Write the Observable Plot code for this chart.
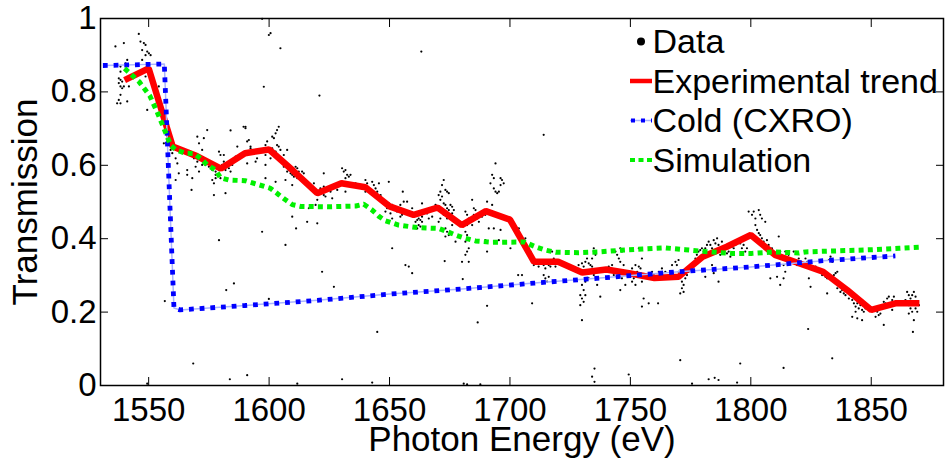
<!DOCTYPE html>
<html><head><meta charset="utf-8">
<script src="https://cdn.jsdelivr.net/npm/d3@7"></script>
<script src="https://cdn.jsdelivr.net/npm/@observablehq/plot@0.6"></script>
<style>
html,body{margin:0;padding:0;background:#fff;}
#chart svg{display:block;}
#chart g[aria-label="x-axis label"] text, #chart g[aria-label="y-axis label"] text{font-size:35px;}
</style></head><body><div id="chart"></div>
<script>
// Tick values
const xTicks = [1550, 1600, 1650, 1700, 1750, 1800, 1850];
const yTicks = [0, 0.2, 0.4, 0.6, 0.8, 1];

// Experimental trend
const trendEnergy = [1540,1550,1560,1570,1580,1590,1600,1610,1620,1630,1640,1650,1660,1670,1680,1690,1700,1710,1720,1730,1740,1750,1760,1770,1780,1790,1800,1810,1820,1830,1840,1850,1860,1870];
const trendValue  = [0.832,0.864,0.651,0.625,0.591,0.633,0.643,0.585,0.524,0.551,0.54,0.488,0.465,0.485,0.437,0.475,0.452,0.337,0.337,0.308,0.316,0.305,0.293,0.296,0.351,0.378,0.41,0.356,0.333,0.31,0.26,0.206,0.224,0.224];

// Cold (CXRO)
const coldEnergy = [1531,1540,1550,1556.5,1560.5,1563,1590,1620,1650,1680,1710,1740,1770,1800,1830,1860];
const coldValue  = [0.872,0.873,0.875,0.876,0.211,0.206,0.218,0.232,0.249,0.263,0.279,0.294,0.31,0.323,0.34,0.353];

// Simulation
const simEnergy = [1540,1546,1550.5,1553.6,1556.3,1559.1,1561.2,1565.3,1568.8,1571.5,1574.3,1577.8,1579.8,1583.3,1590,1595.7,1600.6,1604,1606.8,1609.6,1613,1625,1636,1639.3,1642.8,1645.6,1648.3,1653.8,1662,1670.4,1674,1677.4,1681.5,1685.7,1692.6,1706,1710.6,1714.7,1719,1728.5,1737,1745,1755,1764.5,1772.8,1781,1792,1800.5,1810,1820,1822.7,1836.5,1850.4,1861.5,1870.4];
const simValue  = [0.864,0.828,0.789,0.744,0.701,0.655,0.642,0.633,0.632,0.619,0.601,0.587,0.566,0.56,0.558,0.547,0.537,0.52,0.506,0.493,0.488,0.487,0.489,0.494,0.478,0.461,0.449,0.437,0.43,0.428,0.419,0.41,0.401,0.394,0.39,0.391,0.378,0.369,0.363,0.362,0.364,0.368,0.372,0.375,0.37,0.365,0.36,0.36,0.364,0.361,0.364,0.367,0.37,0.374,0.377];

// Measured data points [energy, transmission]
const dataPoints = [
[1545.9,0.958],[1539.7,0.933],[1536.2,0.924],[1546.6,0.937],[1548,0.933],[1548.7,0.928],[1547.3,0.914],[1549.4,0.91],[1550.1,0.905],[1550.8,0.9],[1548.7,0.9],[1547.3,0.887],[1541.1,0.887],[1540.4,0.878],[1538.3,0.869],[1538.3,0.855],
[1537.6,0.837],[1538.3,0.833],[1539,0.828],[1537.6,0.824],[1539.7,0.815],[1538.3,0.815],[1541.8,0.815],[1539,0.81],
[1538.3,0.792],[1537.6,0.778],[1536.9,0.769],[1538.3,0.769],[1541.1,0.774],
[1548.7,0.842],[1550.1,0.846],[1551.5,0.828],[1554.2,0.815],[1549.4,0.751],
[1557,0.692],[1557.7,0.665],[1556.3,0.66],[1558.4,0.655],[1559.1,0.642],[1559.8,0.633],[1561.2,0.619],
[1561.9,0.605],[1562.5,0.578],[1566,0.587],[1566,0.574],[1568.1,0.565],[1569.5,0.596],[1570.9,0.583],
[1574.3,0.696],[1570.2,0.678],[1572.9,0.674],[1570.9,0.66],
[1572.2,0.642],[1569.5,0.628],[1568.8,0.619],[1570.2,0.61],[1572.2,0.601],[1573.6,0.601],[1575,0.596],[1576.4,0.587],[1577.8,0.583],[1579.2,0.587],[1579.8,0.596],[1580.5,0.601],[1581.2,0.61],[1581.9,0.587],[1583.3,0.592],[1584,0.583],[1577.8,0.574],[1576.4,0.56],[1577.1,0.551],[1577.8,0.565],[1579.8,0.565],[1577.1,0.519],[1581.9,0.524],[1579.2,0.637],[1579.8,0.628],[1581.2,0.628],[1586.8,0.651],[1586.1,0.624],[1588.8,0.624],[1590.2,0.705],[1584.7,0.601],[1584,0.605],
[1561.2,0.56],[1567.8,0.533],[1584,0.695],[1589.4,0.705],
[1579.2,0.396],[1582.2,0.26],[1585.4,0.278],[1556.7,0.23],[1568.5,0.06],[1583.7,0.017],[1549.4,0.005],
[1597.1,0.999],[1600.6,0.96],[1599.9,0.955],[1604.7,0.919],[1597.8,0.814],[1620.9,0.79],[1590.2,0.701],
[1604,0.705],[1603.3,0.696],[1602.7,0.687],[1601.3,0.678],[1602,0.674],[1603.3,0.655],[1604,0.651],[1604.7,0.642],[1602.7,0.637],[1601.3,0.646],[1599.2,0.665],[1598.5,0.655],[1599.9,0.637],[1598.5,0.628],[1602,0.628],[1600.6,0.619],[1606.1,0.628],[1607.5,0.642],[1595.7,0.637],[1595,0.619],[1594.4,0.61],[1592.3,0.646],[1591.6,0.637],[1590.9,0.665],[1591.6,0.669],[1592.3,0.651],[1593.7,0.633],[1590.9,0.605],[1598.5,0.601],[1598.5,0.565],
[1606.1,0.596],[1608.2,0.587],[1607.5,0.583],[1608.9,0.578],[1609.6,0.574],[1611,0.596],[1611.7,0.592],[1612.3,0.583],[1610.3,0.569],[1611.7,0.565],[1613.7,0.583],[1614.4,0.578],[1609.6,0.546],[1606.8,0.56],[1602.7,0.555],[1615.8,0.551],[1618.6,0.551],[1619.3,0.533],[1620.6,0.528],[1620,0.519],[1621.3,0.537],[1622.7,0.542],[1624.1,0.533],[1622.7,0.519],[1620,0.506],[1619.3,0.492],[1623.4,0.515],[1625.5,0.528],[1626.2,0.51],[1622.7,0.578],
[1630.3,0.592],[1631.7,0.587],[1631,0.583],[1632.4,0.574],[1633.1,0.569],[1633.8,0.574],[1631.7,0.565],[1630.3,0.555],[1629.6,0.546],[1632.4,0.546],[1633.8,0.546],[1635.9,0.551],[1637.3,0.542],[1638.6,0.537],[1640,0.56],[1640.7,0.551],[1641.4,0.537],[1642.1,0.528],[1642.8,0.555],[1643.5,0.546],[1644.2,0.537],[1644.9,0.528],[1645.6,0.551],[1646.3,0.519],[1640,0.528],[1631.7,0.528],[1628.3,0.533],
[1616.5,0.483],[1609.6,0.46],[1611.2,0.428],[1615.8,0.446],[1620,0.442],[1597.1,0.419],[1606.8,0.383],[1622,0.31],[1626.9,0.269],[1599.9,0.236],[1644.9,0.146],[1590.9,0.028],[1611.7,0.005],[1630.3,0.017],[1642.8,0.008],
[1663.2,0.91],[1649.7,0.555],[1655.5,0.528],
[1648.3,0.501],[1649.7,0.496],[1651.1,0.492],[1651.8,0.483],[1652.5,0.478],[1653.8,0.483],[1654.5,0.492],[1655.2,0.478],[1653.1,0.474],[1655.9,0.501],[1657.3,0.501],[1655.2,0.465],[1654.5,0.46],[1651.1,0.455],[1650.4,0.469],[1648.3,0.474],[1649,0.483],
[1659.4,0.483],[1662.1,0.455],[1662.8,0.451],[1663.5,0.446],[1661.5,0.451],[1660.8,0.446],[1662.1,0.437],[1662.8,0.433],[1661.5,0.428],[1663.5,0.46],[1664.2,0.478],[1663.5,0.496],[1664.9,0.474],[1665.6,0.469],[1666.3,0.455],[1667.7,0.46],[1669.1,0.492],[1670.4,0.519],[1671.1,0.528],[1672.5,0.56],[1671.8,0.546],[1673.2,0.533],[1673.9,0.528],[1674.6,0.524],[1671.8,0.515],[1671.1,0.506],[1672.5,0.496],[1673.2,0.492],[1673.9,0.483],[1674.6,0.478],[1675.3,0.492],[1676,0.487],[1676.7,0.478],[1672.5,0.465],[1673.9,0.455],[1674.6,0.46],[1675.3,0.465],[1676,0.469],[1671.1,0.455],[1670.4,0.446],[1673.2,0.428],[1673.9,0.419],[1674.6,0.41],[1673.2,0.406],[1676,0.437],[1677.4,0.392],
[1681.5,0.474],[1682.2,0.465],[1682.9,0.455],[1683.6,0.446],[1684.3,0.437],[1683.6,0.455],[1685,0.465],[1685.7,0.478],[1685,0.483],[1684.3,0.506],[1682.2,0.437],[1681.5,0.419],[1682.2,0.41],[1682.9,0.401],[1681.5,0.392],[1682.9,0.374],[1682.2,0.365],[1681.5,0.356],[1680.1,0.337],[1682.9,0.337],[1680.4,0.29],
[1686.4,0.455],[1687.1,0.446],[1688.4,0.46],[1689.8,0.465],[1691.2,0.474],[1690.5,0.501],[1692.6,0.492],[1693.3,0.537],[1692.6,0.574],[1693.3,0.565],[1694,0.605],[1691.9,0.551],[1694,0.528],[1694.7,0.524],[1696.1,0.546],[1696.7,0.56],[1697.4,0.551],[1696.1,0.565],[1695.4,0.528],[1691.2,0.428],[1693.3,0.428],[1696.1,0.424],[1690.5,0.365],[1695.4,0.396],[1689.8,0.396],[1700.2,0.374],[1703.7,0.428],[1703.7,0.419],[1703.4,0.301],[1705,0.301],
[1672.9,0.339],[1656.6,0.328],[1658,0.324],[1659.4,0.306],[1651.1,0.374],[1690.5,0.217],[1686.6,0.172],[1680.8,0.005],[1682.2,0.003],[1687.7,0.003],
[1714,0.683],
[1706.4,0.401],[1707.8,0.374],[1708.5,0.365],[1709.2,0.346],[1709.9,0.328],[1710.6,0.337],[1711.2,0.333],[1711.9,0.324],[1712.6,0.333],[1714,0.328],[1714.7,0.337],[1715.4,0.342],[1716.1,0.328],[1716.8,0.324],[1717.5,0.337],[1718.2,0.346],[1718.9,0.324],[1717.5,0.365],[1714.7,0.319],[1714,0.301],[1716.1,0.296],[1714.7,0.292],[1715.4,0.283],[1709.2,0.224],
[1728.5,0.328],[1729.9,0.333],[1730.6,0.324],[1731.3,0.337],[1732,0.346],[1732.7,0.333],[1733.4,0.328],[1734.1,0.324],[1734.8,0.365],[1734.8,0.374],[1735.5,0.356],[1734.1,0.346],[1736.2,0.31],[1734.8,0.301],[1732.7,0.292],[1731.3,0.283],[1729.9,0.274],[1730.6,0.26],[1729.2,0.246],[1729.9,0.237],[1730.6,0.228],[1729.2,0.219],[1731.3,0.246],[1737.5,0.242],[1736.2,0.274],[1729.9,0.178],
[1738.2,0.31],[1739.6,0.319],[1741,0.324],[1742.4,0.328],[1741.7,0.31],[1743.1,0.301],[1743.8,0.365],[1744.5,0.356],[1745.2,0.346],[1745.8,0.374],[1746.5,0.365],[1745.8,0.337],[1747.2,0.328],[1747.9,0.31],[1746.5,0.292],[1745.8,0.26],[1747.9,0.274],[1749.3,0.31],[1750.7,0.319],[1752.1,0.328],[1752.8,0.31],[1753.5,0.324],[1754.2,0.319],[1754.8,0.346],[1753.5,0.374],[1754.2,0.301],[1754.8,0.283],[1752.1,0.274],[1751.4,0.292],[1750.7,0.283],[1755.5,0.237],[1754.8,0.215],[1757.6,0.224],[1759,0.31],[1759.7,0.301],[1761.1,0.292],[1761.8,0.31],[1761.5,0.224],[1763.1,0.319],
[1735.1,0.046],[1734.1,0.024],[1735.1,0.01],[1749.3,0.03],
[1764.5,0.31],[1765.9,0.301],[1767.3,0.328],[1768.7,0.337],[1770,0.342],[1769.3,0.328],[1770,0.31],[1770.7,0.296],[1771.4,0.283],[1772.1,0.274],[1772.8,0.292],[1773.5,0.301],[1774.2,0.31],[1774.9,0.319],[1772.1,0.255],[1770.7,0.251],[1771.4,0.265],
[1775.6,0.328],[1776.3,0.333],[1777,0.346],[1777.6,0.356],[1778.3,0.365],[1779,0.369],[1779.7,0.374],[1780.4,0.365],[1781.1,0.374],[1781.8,0.383],[1782.5,0.392],[1783.2,0.383],[1783.9,0.374],[1784.6,0.396],[1785.3,0.387],[1786,0.401],[1786.6,0.383],[1788,0.392],[1788.7,0.365],[1787.3,0.356],[1789.4,0.374],[1790.1,0.36],[1790.8,0.365],[1791.5,0.351],[1792.2,0.378],[1792.9,0.374],[1793.6,0.383],[1794.3,0.392],[1795,0.396],[1795.6,0.387],[1796.3,0.374],[1797,0.383],[1797.7,0.365],[1798.4,0.374],
[1799.1,0.474],[1800.5,0.465],[1801.2,0.474],[1801.9,0.455],[1803.3,0.478],[1803.9,0.465],[1804.6,0.455],[1801.9,0.437],[1802.6,0.424],[1803.3,0.415],[1803.9,0.41],[1804.6,0.401],[1805.3,0.392],[1806,0.446],[1806.7,0.396],[1807.4,0.383],[1808.1,0.365],[1808.8,0.374],[1810.2,0.356],[1811.6,0.406],[1812.2,0.365],[1812.9,0.346],[1813.6,0.328],[1814.3,0.365],[1815,0.346],[1815.7,0.356],[1816.4,0.333],[1817.1,0.342],[1817.8,0.365],[1818.5,0.337],[1819.2,0.328],[1819.9,0.346],
[1781.1,0.296],[1784.6,0.306],[1783.9,0.328],[1786.6,0.283],[1808.1,0.292],[1810.9,0.296],[1812.2,0.274],[1813.6,0.292],[1814.3,0.31],
[1770.7,0.069],[1775.6,0.005],[1782.5,0.017],[1785,0.021],[1786.6,0.015],[1794.3,0.008],[1795.6,0.06],[1813.6,0.048],
[1822.7,0.346],[1823.4,0.337],[1824.1,0.328],[1824.8,0.324],[1825.5,0.319],[1824.1,0.292],[1824.8,0.269],[1826.9,0.324],[1828.2,0.315],[1829.6,0.301],[1831,0.296],[1831.7,0.292],[1832.4,0.342],[1833.1,0.351],[1833.8,0.337],[1834.5,0.301],[1835.2,0.306],[1835.9,0.31],[1834.5,0.283],[1835.9,0.265],[1836.5,0.274],[1837.2,0.255],[1837.9,0.26],[1838.6,0.251],[1839.3,0.246],[1840,0.255],[1840.7,0.237],[1842.1,0.233],[1842.8,0.224],[1843.5,0.215],[1844.2,0.224],[1844.8,0.21],[1845.5,0.219],[1846.2,0.206],[1846.9,0.201],[1847.6,0.21],[1843.5,0.201],[1842.1,0.187],[1844.2,0.183],[1846.2,0.178],[1831.7,0.251],[1823.8,0.154],[1833.8,0.074],
[1851.8,0.21],[1852.5,0.201],[1853.1,0.192],[1853.8,0.196],[1854.5,0.219],[1855.2,0.228],[1855.9,0.224],[1856.6,0.237],[1857.3,0.242],[1858.7,0.233],[1858,0.219],[1859.4,0.242],[1851.8,0.187],[1855.2,0.165],[1858.7,0.206],
[1864.2,0.233],[1864.9,0.228],[1865.6,0.219],[1866.3,0.237],[1867,0.246],[1867.7,0.255],[1868.4,0.242],[1869.1,0.224],[1869.8,0.219],[1868.4,0.21],[1867,0.201],[1866.3,0.21],[1865.6,0.196],[1867.7,0.178],[1869.1,0.201],[1867.3,0.146],[1864.9,0.255],[1865.6,0.246]
];

const legendLabels = ["Data", "Experimental trend", "Cold (CXRO)", "Simulation"];

const zip = (xs, ys) => xs.map((x, i) => [x, ys[i]]);
const trendPts = zip(trendEnergy, trendValue);
const coldPts = zip(coldEnergy, coldValue);
const simPts = zip(simEnergy, simValue);

const FONT = "'Liberation Sans', Arial, Helvetica, sans-serif";

const plot = Plot.plot({
  width: 945,
  height: 460,
  marginLeft: 100,
  marginRight: 2,
  marginTop: 18,
  marginBottom: 75,
  style: {fontFamily: FONT, fontSize: "33px", background: "#fff", color: "#000", overflow: "visible"},
  x: {domain: [1530, 1880]},
  y: {domain: [0, 1]},
  marks: [
    Plot.dot(dataPoints, {r: 1.1, fill: "#000", stroke: null}),
    Plot.line(trendPts, {stroke: "#ff0000", strokeWidth: 6.5, strokeLinejoin: "miter", strokeLinecap: "butt"}),
    Plot.line(coldPts, {stroke: "#aab3ff", strokeWidth: 1.5, strokeLinecap: "butt"}),
    Plot.line(coldPts, {stroke: "#0000ff", strokeWidth: 4.8, strokeDasharray: "4.8,5.9", strokeLinecap: "butt", strokeLinejoin: "miter"}),
    Plot.line(simPts, {stroke: "#00f000", strokeWidth: 5, strokeDasharray: "5,4.2", strokeLinecap: "butt"}),
    Plot.frame({stroke: "#000", strokeWidth: 1.5}),
    Plot.axisX(xTicks, {anchor: "bottom", tickSize: 0, tickPadding: 12, tickFormat: d => String(d), label: "Photon Energy (eV)", labelArrow: false, labelAnchor: "center", labelOffset: 65}),
    Plot.axisX(xTicks, {anchor: "bottom", tickSize: -8, tickFormat: () => "", label: null}),
    Plot.axisX(xTicks, {anchor: "top", tickSize: -8, tickFormat: () => "", label: null}),
    Plot.axisY(yTicks, {anchor: "left", tickSize: 0, tickPadding: 4, tickFormat: d => String(d), label: "Transmission", labelArrow: false, labelAnchor: "center", labelOffset: 88}),
    Plot.axisY(yTicks, {anchor: "left", tickSize: -8, tickFormat: () => "", label: null}),
    Plot.axisY(yTicks, {anchor: "right", tickSize: -8, tickFormat: () => "", label: null})
  ]
});

document.getElementById("chart").appendChild(plot);

// Legend (inside the axes, top right)
const svg = d3.select(plot);
const lg = svg.append("g").attr("font-family", FONT).attr("font-size", 34).attr("fill", "#000").attr("text-anchor", "start");
const baseY = 53, stepY = 39.5, textX = 652.5, sw0 = 630, sw1 = 652;
legendLabels.forEach((lab, i) => {
  const by = baseY + i * stepY, cy = by - 11.5;
  if (i === 0) {
    lg.append("circle").attr("cx", 641).attr("cy", cy).attr("r", 4).attr("fill", "#000");
  } else if (i === 1) {
    lg.append("line").attr("x1", sw0).attr("x2", sw1).attr("y1", cy).attr("y2", cy).attr("stroke", "#ff0000").attr("stroke-width", 4.5);
  } else if (i === 2) {
    lg.append("line").attr("x1", sw0).attr("x2", sw1).attr("y1", cy).attr("y2", cy).attr("stroke", "#aab3ff").attr("stroke-width", 1.5);
    lg.append("line").attr("x1", sw0 + 1).attr("x2", sw1).attr("y1", cy).attr("y2", cy).attr("stroke", "#0000ff").attr("stroke-width", 4).attr("stroke-dasharray", "4,6");
  } else {
    lg.append("line").attr("x1", sw0).attr("x2", sw1).attr("y1", cy).attr("y2", cy).attr("stroke", "#00f000").attr("stroke-width", 4).attr("stroke-dasharray", "5,3.5");
  }
  lg.append("text").attr("x", textX).attr("y", by).attr("text-anchor", "start").text(lab);
});
</script>
</body></html>
